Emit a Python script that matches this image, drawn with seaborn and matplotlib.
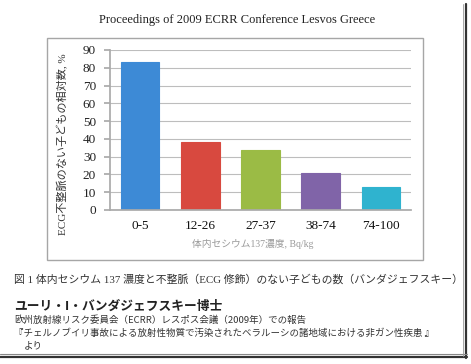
import matplotlib
matplotlib.use("Agg")
import matplotlib.pyplot as plt
import seaborn as sns
import pandas as pd
from matplotlib.patches import Rectangle
from matplotlib.lines import Line2D

categories = ["0-5", "12-26", "27-37", "38-74", "74-100"]
values = [83, 38, 34, 21, 13]
colors = ["#3d8ad6", "#d8493f", "#9bbb45", "#8064a8", "#2fb3cf"]
yticks = [0, 10, 20, 30, 40, 50, 60, 70, 80, 90]

title = "Proceedings of 2009 ECRR Conference Lesvos Greece"
ylabel = "ECG不整脈のない子どもの相対数, %"
xlabel = "体内セシウム137濃度, Bq/kg"
caption1 = "図 1 体内セシウム 137 濃度と不整脈（ECG 修飾）のない子どもの数（バンダジェフスキー）"
author = "ユーリ・I・バンダジェフスキー博士"
src1 = "欧州放射線リスク委員会（ECRR）レスポス会議（2009年）での報告"
src2 = "『チェルノブイリ事故による放射性物質で汚染されたベラルーシの諸地域における非ガン性疾患 』"
src3 = "より"

sns.set_theme(style="white")
plt.rcParams['font.family'] = ['Liberation Serif', 'Noto Sans CJK JP', 'DejaVu Sans']
cjk = ['Noto Sans CJK JP', 'DejaVu Sans']

W, H = 471, 364
fig = plt.figure(figsize=(W / 100, H / 100), dpi=100)
fig.patch.set_facecolor("white")

def fx(x):
    return x / W

def fy(y):
    return 1 - y / H

# chart box
fig.patches.append(Rectangle((fx(47), fy(260)), fx(423) - fx(47), fy(38) - fy(260),
                             transform=fig.transFigure, fill=False, edgecolor="#a6a6a6", lw=1.0))

# image frame / shadow
fig.add_artist(Line2D([fx(466), fx(466)], [fy(4), fy(358)], transform=fig.transFigure, color="#333333", lw=1.6))
fig.add_artist(Line2D([fx(0), fx(467)], [fy(357), fy(357)], transform=fig.transFigure, color="#333333", lw=1.6))
fig.add_artist(Line2D([fx(0), fx(467)], [fy(354), fy(354)], transform=fig.transFigure, color="#888888", lw=0.8))
fig.add_artist(Line2D([fx(463), fx(463)], [fy(4), fy(356)], transform=fig.transFigure, color="#999999", lw=0.6))

ax = fig.add_axes([fx(110), fy(210), fx(411) - fx(110), fy(50) - fy(210)])
df = pd.DataFrame({"cat": categories, "val": values})
sns.barplot(data=df, x="cat", y="val", hue="cat", palette=colors, legend=False,
            width=0.64, ax=ax, saturation=1, edgecolor="none")
for p, c in zip(ax.patches, colors):
    p.set_edgecolor(c)
    p.set_linewidth(0.8)

ax.set_ylim(0, 90)
ax.set_xlim(-0.5, 4.5)
ax.set_yticks(yticks)
ax.set_yticklabels([str(t) for t in yticks], fontsize=9.5, color="#222222")
ax.set_xticks(range(len(categories)))
ax.set_xticklabels(categories, fontsize=9.5, color="#111111")
ax.yaxis.grid(True, color="#bdbdbd", lw=0.8)
ax.set_axisbelow(True)
for s in ["top", "right"]:
    ax.spines[s].set_visible(False)
ax.spines["left"].set_color("#aaaaaa")
ax.spines["bottom"].set_color("#aaaaaa")
ax.tick_params(axis="y", length=4, color="#aaaaaa", pad=6, left=True)
ax.tick_params(axis="x", length=0, pad=7)
ax.set_xlabel("")
ax.set_ylabel("")

fig.text(fx(237), fy(20), title, ha="center", va="center", fontsize=9, color="#222222")
fig.text(fx(63), fy(144), ylabel, ha="center", va="center", rotation=90, fontsize=8,
         color="#333333", family=['Liberation Serif', 'Noto Sans CJK JP'])
fig.text(fx(253), fy(244), xlabel, ha="center", va="center", fontsize=7, color="#9a9a9a",
         family=['Liberation Serif', 'Noto Sans CJK JP'])

fig.text(fx(14), fy(279), caption1, ha="left", va="center", fontsize=7.8, color="#333333",
         family=['Liberation Serif', 'Noto Sans CJK JP'])
fig.text(fx(14), fy(306), author, ha="left", va="center", fontsize=9.2, fontweight="bold",
         color="#222222", family=cjk)
fig.text(fx(14), fy(320), src1, ha="left", va="center", fontsize=6.8, color="#333333", family=cjk)
fig.text(fx(14), fy(333), src2, ha="left", va="center", fontsize=6.8, color="#333333", family=cjk)
fig.text(fx(24), fy(346), src3, ha="left", va="center", fontsize=6.8, color="#333333", family=cjk)

fig.savefig("out.png", dpi=100, facecolor="white")
